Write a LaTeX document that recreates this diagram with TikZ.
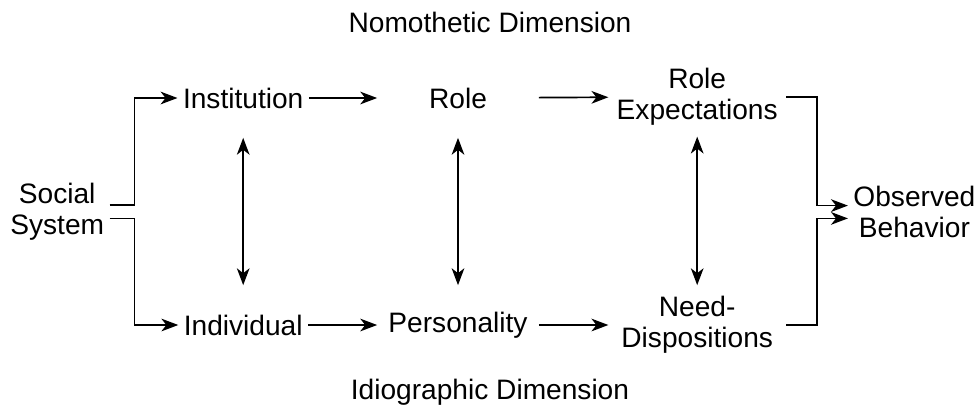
\documentclass[tikz,border=0pt]{standalone}
\usepackage{fontspec}
\setmainfont{Liberation Sans}
\usepackage{tikz}
\usetikzlibrary{arrows.meta}

\begin{document}
\begin{tikzpicture}[>={Stealth[length=12pt,width=9pt,inset=3.5pt]}, line width=1.2pt,
    every node/.style={font=\fontsize{20}{22}\selectfont},
    term/.style={rectangle, align=center},
    block/.style={term, minimum height=1.95cm},
    midblock/.style={block, minimum width=4cm},
    rightblock/.style={block, minimum width=4.4cm}]
    \useasboundingbox (0,0) rectangle (24.45,-10.325);

    % Dimension titles
    \node[term] (nomo) at (12.25,-0.55) {Nomothetic Dimension};
    \node[term] (idio) at (12.25,-9.8) {Idiographic Dimension};

    % Social System
    \node[term] (social) at (1.43,-5.3) {Social\\System};

    % Nomothetic row
    \node[block] (inst) at (6.08,-2.45) {Institution};
    \node[midblock] (role) at (11.45,-2.45) {Role};
    \node[rightblock] (roleexp) at (17.43,-2.42) {Role\\Expectations};

    % Idiographic row
    \node[block] (indiv) at (6.08,-8.125) {Individual};
    \node[midblock] (pers) at (11.45,-8.125) {Personality};
    \node[rightblock] (need) at (17.43,-8.125) {Need-\\Dispositions};

    % Observed Behavior
    \node[term] (obs) at (22.86,-5.31) {Observed\\Behavior};

    % Split from the social system
    \draw[->] ([yshift=0.18cm]social.east) -- ++(0.62,0) |- (inst);
    \draw[->] ([yshift=-0.16cm]social.east) -- ++(0.62,0) |- (indiv);

    % Arrows along the rows
    \draw[->] (inst) -- (role);
    \draw[->] (role) -- (roleexp);
    \draw[->] (indiv) -- (pers);
    \draw[->] (pers) -- (need);

    % Interaction between the dimensions
    \draw[<->] (inst) -- (indiv);
    \draw[<->] (role) -- (pers);
    \draw[<->] (roleexp) -- (need);

    % Join into behavior
    \draw[->] (roleexp.east) -- ++(0.78,0) |- ([yshift=0.17cm]obs.west);
    \draw[->] (need.east) -- ++(0.78,0) |- ([yshift=-0.15cm]obs.west);
\end{tikzpicture}
\end{document}
